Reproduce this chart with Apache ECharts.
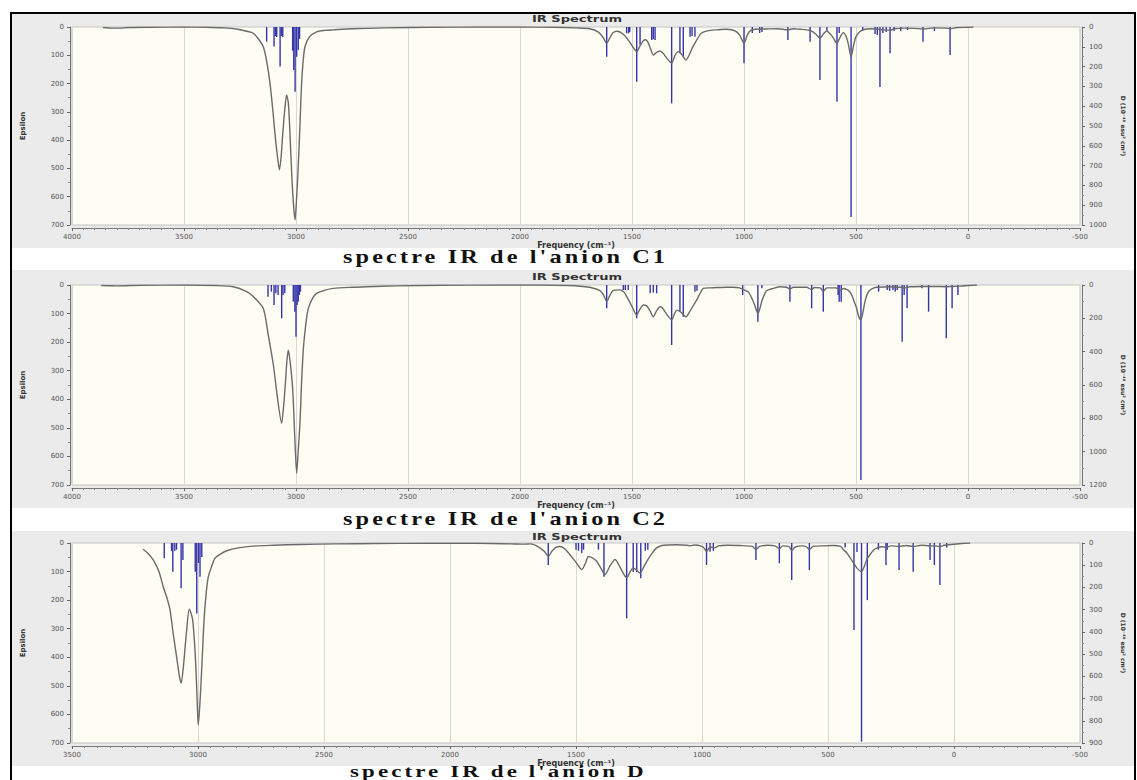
<!DOCTYPE html>
<html>
<head>
<meta charset="utf-8">
<title>spectres IR</title>
<script src="https://cdn.jsdelivr.net/npm/echarts@6.0.0/dist/echarts.min.js"></script>
<style>
html, body { margin: 0; padding: 0; background: #fff; }
#main { width: 1137px; height: 780px; }
/* wide-spaced captions like the scanned figure */
#main text[style*="Liberation Serif"] { letter-spacing: 2.3px; }
</style>
</head>
<body>
<div id="main"></div>
<script>
// textes
var plotTitle = 'IR Spectrum';
var xName = 'Frequency (cm\u207B\u00B9)';
var leftName = 'Epsilon';
var rightName = 'D (10\u207B\u2074\u2070 esu\u00B2 cm\u00B2)';
var captions = ["spectre IR de l'anion C1", "spectre IR de l'anion C2", "spectre IR de l'anion D"];

// axes
var xMin = [-500, -500, -500];
var xMax = [4000, 4000, 3500];
var epsMax = [700, 700, 700];
var intMax = [1000, 1200, 900];
var intStep = [100, 200, 100];

// spectre elargi [frequence, epsilon] - anion C1
var curveC1 = [[3862,2],[3820,4],[3790,4],[3750,2],[3650,1],[3500,0],[3400,1],[3320,3],[3260,8],[3220,15],[3191,22],[3165,45],[3146,70],[3130,125],[3116,199],[3104,290],[3094,376],[3084,450],[3074,505],[3066,455],[3059,376],[3050,290],[3042,240],[3034,270],[3027,376],[3018,540],[3010,640],[3004,682],[2997,600],[2990,494],[2982,340],[2975,199],[2968,120],[2960,70],[2940,35],[2908,17],[2870,12],[2833,10],[2750,6],[2600,3],[2400,1],[2200,0],[2000,0],[1850,1],[1750,3],[1688,6],[1650,18],[1628,38],[1613,58],[1600,40],[1585,20],[1565,15],[1540,25],[1515,48],[1495,72],[1479,87],[1465,68],[1449,48],[1440,45],[1430,52],[1418,75],[1405,99],[1390,90],[1375,85],[1360,94],[1345,110],[1323,128],[1308,100],[1293,87],[1275,100],[1259,117],[1245,100],[1230,72],[1211,46],[1195,25],[1182,18],[1150,12],[1122,10],[1080,8],[1063,9],[1040,14],[1020,28],[1000,58],[985,28],[970,12],[950,8],[900,7],[850,6],[804,10],[780,6],[750,8],[720,10],[700,14],[680,25],[661,40],[645,24],[631,14],[615,25],[600,40],[586,58],[572,38],[557,20],[545,32],[535,58],[522,105],[510,62],[500,34],[482,16],[460,8],[430,6],[400,8],[380,10],[348,12],[330,6],[280,4],[240,5],[200,7],[150,3],[100,4],[80,6],[50,2],[0,1],[-24,0]];
// raies [frequence, intensite]
var sticksC1 = [[3131,74],[3098,99],[3092,45],[3086,50],[3071,200],[3065,45],[3059,50],[3015,120],[3010,217],[3004,327],[2997,150],[2990,116],[2984,60],[1613,150],[1524,32],[1515,32],[1510,25],[1479,276],[1464,91],[1412,66],[1405,60],[1397,66],[1323,386],[1286,133],[1271,150],[1241,49],[1232,45],[1219,49],[1000,183],[963,30],[930,30],[920,25],[804,66],[705,75],[661,268],[630,20],[585,378],[575,30],[522,960],[470,15],[415,35],[405,40],[393,303],[380,30],[365,25],[348,133],[330,20],[300,20],[270,15],[201,75],[150,20],[80,141]];

// anion C2
var curveC2 = [[3870,2],[3800,3],[3700,1],[3500,0],[3350,2],[3280,6],[3220,23],[3191,40],[3146,82],[3125,170],[3101,280],[3082,400],[3064,484],[3056,430],[3049,362],[3040,260],[3034,228],[3026,270],[3015,362],[3005,540],[2997,659],[2990,580],[2982,478],[2975,340],[2967,222],[2955,130],[2945,82],[2925,45],[2908,29],[2870,18],[2833,12],[2750,8],[2684,6],[2550,3],[2350,1],[2100,0],[1900,0],[1780,2],[1720,5],[1688,8],[1643,20],[1625,38],[1613,58],[1600,38],[1585,20],[1555,17],[1535,25],[1524,40],[1500,75],[1479,105],[1465,85],[1449,70],[1434,73],[1420,90],[1405,111],[1390,90],[1375,76],[1365,80],[1353,93],[1340,108],[1323,122],[1310,100],[1300,88],[1285,93],[1272,103],[1259,111],[1240,90],[1225,70],[1211,52],[1195,28],[1182,12],[1150,10],[1122,9],[1080,8],[1048,8],[1020,10],[1000,17],[980,25],[963,50],[950,75],[938,100],[928,80],[920,55],[908,32],[900,20],[870,12],[839,6],[810,8],[795,14],[780,8],[760,8],[720,8],[698,16],[685,9],[660,10],[646,22],[630,10],[590,10],[571,18],[555,12],[542,15],[530,22],[519,35],[508,58],[497,82],[488,110],[478,122],[469,95],[460,58],[450,32],[438,18],[420,10],[408,8],[350,6],[300,8],[280,10],[260,6],[200,5],[150,5],[100,6],[70,5],[36,4],[0,2],[-40,0]];
var sticksC2 = [[3125,70],[3110,40],[3098,120],[3090,50],[3080,60],[3064,200],[3058,60],[3050,50],[3012,100],[3005,160],[3000,310],[2995,120],[2990,100],[2985,60],[2980,40],[1613,140],[1539,30],[1530,30],[1517,30],[1479,200],[1419,50],[1405,45],[1390,50],[1323,360],[1286,160],[1271,190],[1219,40],[1210,35],[1006,60],[938,220],[920,20],[795,100],[698,140],[646,160],[580,60],[575,100],[566,100],[478,1170],[399,40],[361,30],[350,35],[335,30],[325,40],[316,30],[294,340],[285,60],[272,140],[206,20],[176,160],[97,320],[71,140],[45,60]];

// anion D
var curveD = [[3218,22],[3200,35],[3177,60],[3155,100],[3138,153],[3124,190],[3111,234],[3098,320],[3085,398],[3075,460],[3067,491],[3058,433],[3045,305],[3035,232],[3028,245],[3021,270],[3013,360],[3008,444],[3003,560],[2999,637],[2993,570],[2988,491],[2982,380],[2976,270],[2968,180],[2959,118],[2945,80],[2933,54],[2910,38],[2886,27],[2840,17],[2781,11],[2700,8],[2595,5],[2450,3],[2300,2],[2100,1],[1900,1],[1760,3],[1700,4],[1683,3],[1660,8],[1643,17],[1625,30],[1610,47],[1595,28],[1580,15],[1563,12],[1545,20],[1524,41],[1500,68],[1477,93],[1462,70],[1451,47],[1435,52],[1418,64],[1400,90],[1385,111],[1365,80],[1345,58],[1325,85],[1310,110],[1299,122],[1285,100],[1273,87],[1260,95],[1246,105],[1232,85],[1219,64],[1200,38],[1180,17],[1154,8],[1100,6],[1060,8],[1048,10],[1030,7],[1000,12],[990,20],[982,30],[972,18],[960,15],[950,17],[935,10],[900,8],[850,9],[800,12],[786,23],[772,12],[740,8],[710,10],[693,20],[680,10],[655,12],[644,26],[630,14],[600,10],[585,14],[574,23],[560,12],[520,10],[480,9],[450,12],[439,23],[425,35],[410,55],[397,72],[385,88],[367,100],[355,80],[345,55],[339,48],[320,25],[301,15],[285,13],[270,15],[250,10],[218,12],[190,9],[162,12],[130,8],[95,10],[78,10],[56,12],[40,8],[10,5],[-30,2],[-64,0]];
var sticksD = [[3134,69],[3105,35],[3100,129],[3092,35],[3085,30],[3067,204],[3060,76],[3011,129],[3005,317],[2998,90],[2992,152],[2985,63],[1610,99],[1500,30],[1490,35],[1477,45],[1470,30],[1411,30],[1389,152],[1299,339],[1273,130],[1259,130],[1243,159],[1225,35],[1215,30],[982,99],[968,39],[955,35],[786,76],[693,91],[644,166],[574,122],[432,20],[397,392],[385,40],[367,894],[344,257],[300,30],[270,99],[265,30],[218,122],[162,129],[95,76],[78,99],[56,189],[29,20]];

var curves = [curveC1, curveC2, curveD];
var sticks = [sticksC1, sticksC2, sticksD];

// mise en page
var gridTops = [27, 285, 543];
var gridHeights = [198, 200, 200];
var bands = [[13, 235], [270, 238], [531, 235]];
var titleY = [19, 277, 537];
var captionPos = [[343, 257], [343, 519], [350, 771]];
var captionSize = [18, 18, 17];

var axisFont = 'DejaVu Sans';

function plain(v) {
    return String(v);
}

function stick(params, api) {
    var f = api.value(0);
    var a = api.coord([f, 0]);
    var b = api.coord([f, api.value(1)]);
    return {
        type: 'line',
        shape: { x1: a[0], y1: a[1], x2: b[0], y2: b[1] },
        style: { stroke: '#3535a8', lineWidth: 1.4 }
    };
}

var grids = [], xAxes = [], yAxes = [], series = [], graphics = [];

for (var i = 0; i < 3; i++) {
    grids.push({
        left: 72, width: 1008, top: gridTops[i], height: gridHeights[i],
        show: true, backgroundColor: '#fdfdf4', borderColor: '#c4c4c4', borderWidth: 1
    });
    xAxes.push({
        gridIndex: i, type: 'value', inverse: true,
        min: xMin[i], max: xMax[i], interval: 500, offset: 3,
        axisLine: { show: true, onZero: false, lineStyle: { color: '#777', width: 1 } },
        axisTick: { show: true, length: 3, lineStyle: { color: '#666' } },
        minorTick: { show: true, splitNumber: 10, length: 2, lineStyle: { color: '#888' } },
        axisLabel: { fontSize: 7, color: '#555', margin: 5, fontFamily: axisFont, formatter: plain },
        splitLine: { show: true, lineStyle: { color: '#d8d8d8', width: 1 } },
        name: xName, nameLocation: 'middle', nameGap: 13,
        nameTextStyle: { fontSize: 8, fontWeight: 'bold', color: '#333', fontFamily: axisFont }
    });
    yAxes.push({
        gridIndex: i, type: 'value', inverse: true, position: 'left',
        min: 0, max: epsMax[i], interval: 100, offset: 2,
        axisLine: { show: true, onZero: false, lineStyle: { color: '#777' } },
        axisTick: { show: true, length: 3, lineStyle: { color: '#666' } },
        minorTick: { show: true, splitNumber: 2, length: 2, lineStyle: { color: '#888' } },
        axisLabel: { fontSize: 7, color: '#555', margin: 6, fontFamily: axisFont, formatter: plain },
        splitLine: { show: false },
        name: leftName, nameLocation: 'middle', nameGap: 44, nameRotate: 90,
        nameTextStyle: { fontSize: 7, fontWeight: 'bold', color: '#333', fontFamily: axisFont }
    });
    yAxes.push({
        gridIndex: i, type: 'value', inverse: true, position: 'right',
        min: 0, max: intMax[i], interval: intStep[i], offset: 2,
        axisLine: { show: true, onZero: false, lineStyle: { color: '#777' } },
        axisTick: { show: true, length: 3, lineStyle: { color: '#666' } },
        minorTick: { show: true, splitNumber: 2, length: 2, lineStyle: { color: '#888' } },
        axisLabel: { fontSize: 7, color: '#555', margin: 7, fontFamily: axisFont, formatter: plain },
        splitLine: { show: false },
        name: rightName, nameLocation: 'middle', nameGap: 38, nameRotate: -90,
        nameTextStyle: { fontSize: 6, fontWeight: 'bold', color: '#333', fontFamily: axisFont }
    });

    series.push({
        type: 'custom', name: 'raies ' + i,
        xAxisIndex: i, yAxisIndex: 2 * i + 1,
        renderItem: stick, encode: { x: 0, y: 1 },
        data: sticks[i], clip: true, silent: true, z: 2
    });
    series.push({
        type: 'line', name: 'spectre ' + i,
        xAxisIndex: i, yAxisIndex: 2 * i,
        data: curves[i], showSymbol: false, smooth: 0.25,
        lineStyle: { color: '#6a6a6a', width: 1.4 },
        silent: true, z: 3
    });

    graphics.push({
        type: 'rect', z: -100,
        shape: { x: 11, y: bands[i][0], width: 1124, height: bands[i][1] },
        style: { fill: '#ebebeb' }
    });
    graphics.push({
        type: 'text', z: 50, x: 577, y: titleY[i], scaleX: 1.45,
        style: {
            text: plotTitle, font: 'bold 9px "DejaVu Sans"', fill: '#333',
            align: 'center', verticalAlign: 'middle', textAlign: 'center', textVerticalAlign: 'middle'
        }
    });
    graphics.push({
        type: 'text', z: 50, x: captionPos[i][0], y: captionPos[i][1], scaleX: 1.35,
        style: {
            text: captions[i], font: 'bold ' + captionSize[i] + 'px "Liberation Serif"', fill: '#111',
            align: 'left', verticalAlign: 'middle', textAlign: 'left', textVerticalAlign: 'middle'
        }
    });
}

// cadre noir
graphics.push({
    type: 'rect', z: 100,
    shape: { x: 11, y: 13, width: 1124, height: 790 },
    style: { fill: null, stroke: '#000', lineWidth: 2 }
});

var chart = echarts.init(document.getElementById('main'), null, { renderer: 'svg' });
chart.setOption({
    animation: false,
    backgroundColor: '#ffffff',
    grid: grids,
    xAxis: xAxes,
    yAxis: yAxes,
    series: series,
    graphic: { elements: graphics }
});
</script>
</body>
</html>
